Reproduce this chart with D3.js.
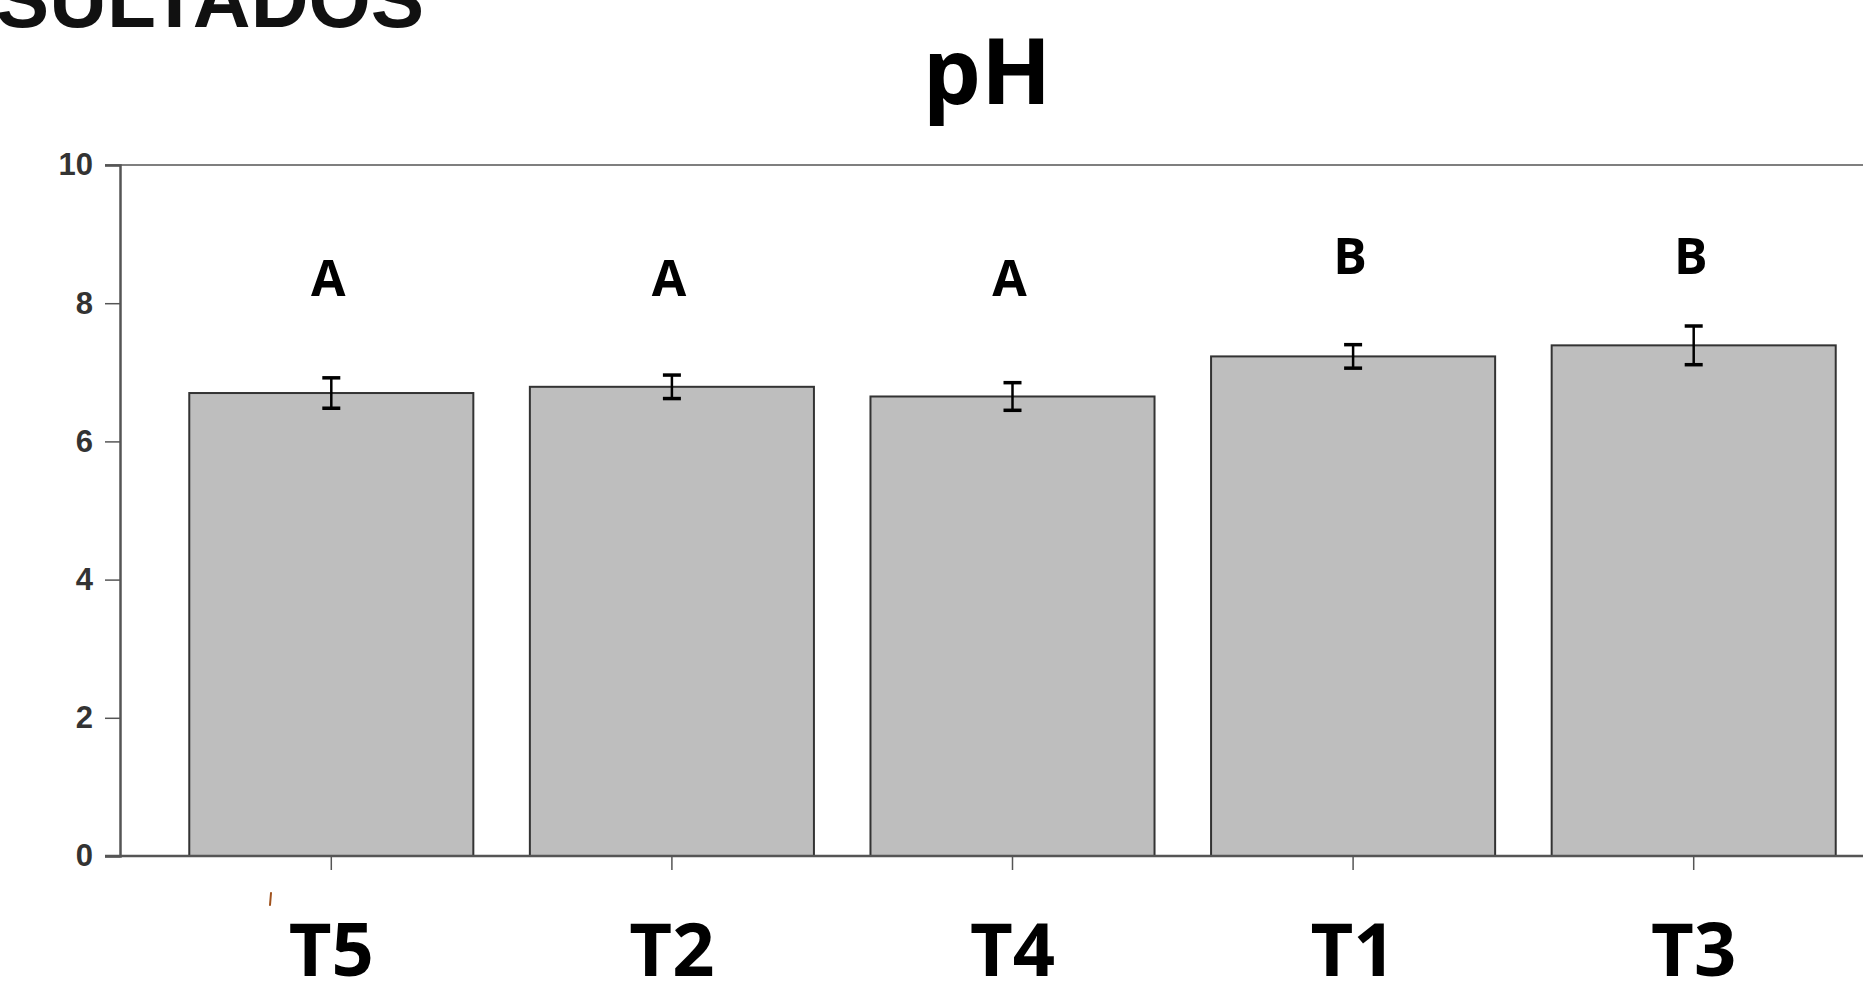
<!DOCTYPE html>
<html>
<head>
<meta charset="utf-8">
<script src="https://cdn.jsdelivr.net/npm/d3@7/dist/d3.min.js"></script>
<style>
  body { margin: 0; background: #fff; }
  svg { display: block; }
</style>
</head>
<body>
<div class="ph-chart"></div>
<script>
const categories = ["T5", "T2", "T4", "T1", "T3"];
const means = [6.70, 6.79, 6.65, 7.23, 7.39];
const errors = [0.22, 0.17, 0.20, 0.17, 0.28];
const groupLetters = ["A", "A", "A", "B", "B"];
const letterLevels = [8.1, 8.1, 8.1, 8.42, 8.42];
const yTicks = [0, 2, 4, 6, 8, 10];

const width = 1863, height = 982;

const svg = d3.select(".ph-chart").append("svg")
  .attr("width", width)
  .attr("height", height);

const x = d3.scaleBand()
  .domain(categories)
  .range([161, 1864])
  .paddingInner(0.166)
  .paddingOuter(0.083);

const y = d3.scaleLinear()
  .domain([0, 10])
  .range([856, 165]);

// slide heading, cut off at the top-left
svg.append("text")
  .attr("x", 424)
  .attr("y", 27)
  .attr("text-anchor", "end")
  .style("font-family", "Liberation Sans, Arial, sans-serif")
  .style("font-weight", "bold")
  .style("font-size", "80px")
  .attr("fill", "#111")
  .text("RESULTADOS");

svg.append("text")
  .attr("x", 987)
  .attr("y", 104)
  .attr("text-anchor", "middle")
  .style("font-family", "Open Sans, sans-serif")
  .style("font-weight", "bold")
  .style("font-size", "92px")
  .text("pH");

// top frame line
svg.append("line")
  .attr("x1", 105).attr("x2", width)
  .attr("y1", y(10)).attr("y2", y(10))
  .attr("stroke", "#555")
  .attr("stroke-width", 1.5);

const yAxis = d3.axisLeft(y)
  .tickValues(yTicks)
  .tickSize(15)
  .tickPadding(12)
  .tickFormat(d3.format("d"));

const gy = svg.append("g")
  .attr("transform", "translate(120,0)")
  .call(yAxis);
gy.select(".domain").attr("stroke", "#555").attr("stroke-width", 2.5);
gy.selectAll(".tick line").attr("stroke", "#555").attr("stroke-width", 1.5);
gy.selectAll(".tick text")
  .attr("fill", "#333")
  .style("font-family", "Liberation Sans, Arial, sans-serif")
  .style("font-weight", "bold")
  .style("font-size", "31px");

svg.selectAll(".bar")
  .data(categories)
  .enter().append("rect")
  .attr("class", "bar")
  .attr("x", d => x(d))
  .attr("width", x.bandwidth())
  .attr("y", (d, i) => y(means[i]))
  .attr("height", (d, i) => y(0) - y(means[i]))
  .attr("fill", "#bebebe")
  .attr("stroke", "#333")
  .attr("stroke-width", 2);

// bottom axis over the bars
svg.append("line")
  .attr("x1", 105).attr("x2", width)
  .attr("y1", y(0)).attr("y2", y(0))
  .attr("stroke", "#555")
  .attr("stroke-width", 2.5);

const xAxis = d3.axisBottom(x).tickSize(14).tickSizeOuter(0).tickFormat("");
const gx = svg.append("g")
  .attr("transform", `translate(0,${y(0)})`)
  .call(xAxis);
gx.select(".domain").remove();
gx.selectAll(".tick line").attr("stroke", "#555").attr("stroke-width", 1.5);

svg.selectAll(".xlabel")
  .data(categories)
  .enter().append("text")
  .attr("class", "xlabel")
  .attr("x", d => x(d) + x.bandwidth() / 2)
  .attr("y", 976)
  .attr("text-anchor", "middle")
  .style("font-family", "Open Sans, sans-serif")
  .style("font-weight", "bold")
  .style("font-size", "74px")
  .text(d => d);

// error bars
const cap = 9;
const err = svg.selectAll(".err")
  .data(categories)
  .enter().append("g")
  .attr("class", "err")
  .attr("stroke", "#000")
  .attr("stroke-width", 2.5);
err.append("line")
  .attr("x1", d => x(d) + x.bandwidth() / 2)
  .attr("x2", d => x(d) + x.bandwidth() / 2)
  .attr("y1", (d, i) => y(means[i] + errors[i]))
  .attr("y2", (d, i) => y(means[i] - errors[i]));
err.append("line")
  .attr("x1", d => x(d) + x.bandwidth() / 2 - cap)
  .attr("x2", d => x(d) + x.bandwidth() / 2 + cap)
  .attr("y1", (d, i) => y(means[i] + errors[i]))
  .attr("y2", (d, i) => y(means[i] + errors[i]))
  .attr("stroke-width", 3.5);
err.append("line")
  .attr("x1", d => x(d) + x.bandwidth() / 2 - cap)
  .attr("x2", d => x(d) + x.bandwidth() / 2 + cap)
  .attr("y1", (d, i) => y(means[i] - errors[i]))
  .attr("y2", (d, i) => y(means[i] - errors[i]))
  .attr("stroke-width", 3.5);

svg.selectAll(".letter")
  .data(categories)
  .enter().append("text")
  .attr("class", "letter")
  .attr("x", d => x(d) + x.bandwidth() / 2 - 3)
  .attr("y", (d, i) => y(letterLevels[i]))
  .attr("text-anchor", "middle")
  .style("font-family", "Open Sans, sans-serif")
  .style("font-weight", "bold")
  .style("font-size", "50px")
  .text((d, i) => groupLetters[i]);

// small stray mark below the T5 tick
svg.append("line")
  .attr("x1", 271).attr("x2", 270)
  .attr("y1", 893).attr("y2", 905)
  .attr("stroke", "#a0521d")
  .attr("stroke-width", 2)
  .attr("stroke-linecap", "round");
</script>
</body>
</html>
